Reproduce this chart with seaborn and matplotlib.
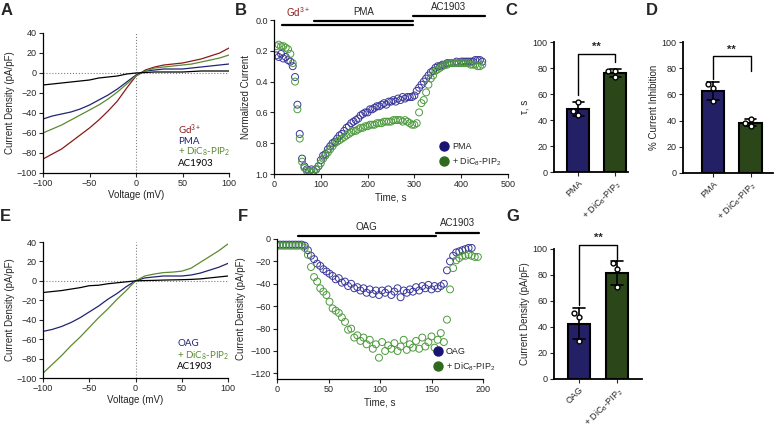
import numpy as np
import pandas as pd
import seaborn as sns
import matplotlib.pyplot as plt
from matplotlib.lines import Line2D
from matplotlib.ticker import FormatStrFormatter

# ---- colours
RED = "#8b1a1a"
NAVY = "#1f2470"
GREEN = "#5b8a30"
DOT_BLUE = "#3a3799"
DOT_GREEN = "#4e9a3e"
BAR_BLUE = "#1a1472"
BAR_GREEN = "#2a4d12"

DIC8 = "+ DiC$_8$-PIP$_2$"

# ---- A: I-V curves (PMA experiment)
voltage = [-100, -90, -80, -70, -60, -50, -40, -30, -20, -10, 0,
           10, 20, 30, 40, 50, 60, 70, 80, 90, 100]
iv_a_gd = [-86, -81, -76, -69, -62, -55, -47, -38, -28, -15, -3,
           3, 6, 8, 9, 10, 12, 14, 17, 20, 25]
iv_a_pma = [-46, -43, -41, -39, -36, -32, -27, -22, -16, -9, -2,
            2, 3, 4, 4, 4, 5, 6, 7, 8, 9]
iv_a_dic8 = [-60, -56, -52, -47, -42, -37, -32, -26, -19, -11, -3,
             2, 5, 6, 7, 8, 9, 11, 13, 15, 18]
iv_a_ac = [-12, -11, -10, -9, -8, -7, -5, -4, -3, -1, 0,
           0.5, 1, 1, 1, 1, 1.5, 2, 2, 2, 2]
legend_a = ["Gd$^{3+}$", "PMA", DIC8, "AC1903"]

# ---- B: normalized current time course
time_b = np.arange(5, 450, 5)
norm_pma = [0.23, 0.24, 0.22, 0.25, 0.24, 0.26, 0.27, 0.30, 0.37, 0.55,
            0.74, 0.90, 0.95, 0.97, 0.98, 0.97, 0.98, 0.97, 0.95, 0.91,
            0.88, 0.87, 0.84, 0.82, 0.80, 0.79, 0.77, 0.75, 0.74, 0.72,
            0.70, 0.69, 0.67, 0.66, 0.65, 0.64, 0.62, 0.61, 0.60, 0.60,
            0.58, 0.58, 0.57, 0.56, 0.56, 0.55, 0.54, 0.55, 0.53, 0.53,
            0.52, 0.53, 0.51, 0.52, 0.50, 0.51, 0.50, 0.50, 0.50, 0.49,
            0.46, 0.44, 0.42, 0.40, 0.38, 0.36, 0.34, 0.33, 0.31, 0.30,
            0.30, 0.29, 0.29, 0.28, 0.28, 0.28, 0.28, 0.27, 0.28, 0.27,
            0.27, 0.27, 0.27, 0.27, 0.27, 0.26, 0.26, 0.26, 0.27]
norm_dic8 = [0.17, 0.16, 0.17, 0.17, 0.18, 0.19, 0.22, 0.28, 0.40, 0.58,
             0.77, 0.92, 0.96, 0.98, 0.98, 0.99, 0.98, 0.97, 0.95, 0.93,
             0.90, 0.88, 0.86, 0.84, 0.82, 0.80, 0.79, 0.78, 0.77, 0.76,
             0.75, 0.74, 0.73, 0.72, 0.72, 0.71, 0.70, 0.70, 0.69, 0.69,
             0.68, 0.68, 0.68, 0.67, 0.67, 0.67, 0.66, 0.66, 0.66, 0.66,
             0.65, 0.65, 0.65, 0.65, 0.66, 0.65, 0.66, 0.67, 0.68, 0.68,
             0.67, 0.60, 0.54, 0.52, 0.47, 0.42, 0.38, 0.36, 0.33, 0.32,
             0.31, 0.30, 0.29, 0.29, 0.28, 0.28, 0.28, 0.28, 0.28, 0.28,
             0.28, 0.28, 0.28, 0.29, 0.29, 0.29, 0.30, 0.30, 0.29]
# treatment bars: name, start, end, level, text colour
treat_b = [("Gd$^{3+}$", 17, 297, 0.03, RED),
           ("PMA", 85, 297, 0.006, "black"),
           ("AC1903", 297, 451, -0.026, "black")]

# ---- C / D: tau and % inhibition
groups_pma = ["PMA", DIC8]
tau_pma = [54, 47, 44]
tau_dic8 = [78, 78, 73]
inhib_pma = [68, 65, 55]
inhib_dic8 = [41, 38, 36]

# ---- E: I-V curves (OAG experiment)
iv_e_oag = [-52, -50, -47, -43, -38, -32, -26, -19, -13, -6, 0,
            3, 4, 5, 5, 5, 6, 8, 11, 14, 18]
iv_e_dic8 = [-95, -86, -77, -67, -58, -48, -38, -29, -19, -10, 0,
             5, 7, 8.5, 9, 10, 13, 19, 25, 31, 38]
iv_e_ac = [-12, -11, -10, -8.5, -7, -5, -4.5, -3, -2, -1, 0,
           0.3, 0.5, 0.8, 1, 1.2, 1.5, 2, 3, 4, 5]
legend_e = ["OAG", DIC8, "AC1903"]

# ---- F: current density time course
time_f_oag = np.arange(0, 192, 3)
dens_oag = [-5, -5, -5, -5, -5, -5, -5, -5, -5, -6,
            -10, -15, -18, -22, -24, -27, -29, -31, -33, -36,
            -35, -39, -38, -42, -40, -44, -43, -46, -44, -48,
            -45, -49, -46, -50, -46, -48, -45, -50, -47, -44,
            -52, -46, -48, -45, -47, -43, -46, -42, -44, -41,
            -45, -42, -44, -42, -40, -28, -20, -15, -12, -11,
            -10, -9, -8, -8]
time_f_dic8 = np.arange(0, 198, 3)
dens_dic8 = [-6, -6, -6, -6, -6, -6, -6, -6, -6, -8,
             -14, -25, -34, -38, -44, -47, -50, -56, -62, -64,
             -66, -70, -74, -81, -80, -88, -86, -91, -88, -94,
             -90, -98, -94, -106, -92, -100, -95, -98, -93, -100,
             -96, -90, -99, -94, -97, -91, -98, -88, -96, -92,
             -87, -97, -90, -84, -92, -72, -45, -26, -19, -17,
             -15, -15, -14, -15, -16, -16]
treat_f = [("OAG", 20, 154, 2.7, "black"),
           ("AC1903", 154, 196, 5.4, "black")]

# ---- G: peak current density
groups_oag = ["OAG", DIC8]
peak_oag = [51, 48, 29]
peak_dic8 = [89, 85, 71]

# ---------------------------------------------------------------
sns.set_style("ticks")
plt.rcParams["font.family"] = ["Liberation Sans", "DejaVu Sans"]
plt.rcParams["mathtext.default"] = "regular"
plt.rcParams["axes.linewidth"] = 0.9
plt.rcParams["xtick.labelsize"] = 6.5
plt.rcParams["ytick.labelsize"] = 6.5
plt.rcParams["xtick.major.size"] = 3
plt.rcParams["ytick.major.size"] = 3
plt.rcParams["xtick.major.pad"] = 1.5
plt.rcParams["ytick.major.pad"] = 1.5
plt.rcParams["axes.labelsize"] = 7
plt.rcParams["axes.edgecolor"] = "black"

W, H = 774, 429
fig = plt.figure(figsize=(W / 100, H / 100), dpi=100)


def add_axes(x0, y0, x1, y1):
    return fig.add_axes([x0 / W, 1 - y1 / H, (x1 - x0) / W, (y1 - y0) / H])


def iv_panel(ax, curves, labels, colors, label_y):
    ax.axhline(0, color="gray", ls=":", lw=0.8)
    ax.axvline(0, color="gray", ls=":", lw=0.8)
    for vals, c in zip(curves, colors):
        sns.lineplot(x=voltage, y=vals, color=c, lw=0.9, ax=ax)
    ax.set_xlim(-100, 100)
    ax.set_ylim(-100, 40)
    ax.set_xticks([-100, -50, 0, 50, 100])
    ax.set_yticks(range(-100, 41, 20))
    ax.set_xlabel("Voltage (mV)", labelpad=1)
    ax.set_ylabel("Current Density (pA/pF)", labelpad=1)
    for lab, c, y in zip(labels, colors, label_y):
        ax.text(45, y, lab, color=c, fontsize=7, va="center",
                family=["Lato", "DejaVu Sans"])
    sns.despine(ax=ax)


def time_panel(ax, series, colors, labels, treatments):
    for (t, v), c in zip(series, colors):
        sns.scatterplot(x=t, y=v, ax=ax, marker="o", s=25, color=c,
                        facecolor="none", edgecolor=c, linewidth=0.7)
    for name, t0, t1, lev, tc in treatments:
        ax.plot([t0, t1], [lev, lev], color="black", lw=1.6, clip_on=False)
    handles = [Line2D([], [], marker="o", ls="", color=c, markersize=6.5)
               for c in (BAR_BLUE, "#2e6b1e")]
    sns.despine(ax=ax)
    return handles


def bar_panel(ax, groups, vals_a, vals_b, ylabel, sig, xlim):
    df = pd.DataFrame({"group": [groups[0]] * len(vals_a) + [groups[1]] * len(vals_b),
                       "value": vals_a + vals_b})
    sns.barplot(data=df, x="group", y="value", hue="group", legend=False,
                palette=[BAR_BLUE, BAR_GREEN], errorbar="sd", capsize=0.3,
                err_kws={"color": "black", "linewidth": 1.2},
                edgecolor="black", linewidth=1.5, width=0.6, ax=ax)
    sns.swarmplot(data=df, x="group", y="value", color="white",
                  edgecolor="black", linewidth=1, size=3.5, ax=ax, zorder=5)
    ax.set_ylim(0, 100)
    ax.set_yticks(range(0, 101, 20))
    ax.set_xlim(*xlim)
    ax.set_xlabel("")
    ax.set_ylabel(ylabel, labelpad=2)
    ax.set_xticks([0, 1])
    ax.set_xticklabels(groups, rotation=45, ha="right", rotation_mode="anchor")
    yl, ytop, yr = sig
    ax.plot([0, 0, 1, 1], [yl, ytop, ytop, yr], color="black", lw=1, clip_on=False)
    ax.text(0.5, ytop + 1.5, "**", ha="center", va="bottom", fontsize=8,
            fontweight="bold", clip_on=False)
    for s in ("left", "bottom"):
        ax.spines[s].set_linewidth(1.3)
    sns.despine(ax=ax)


# ---- panel A
axA = add_axes(43, 33, 229, 173)
iv_panel(axA, [iv_a_gd, iv_a_pma, iv_a_dic8, iv_a_ac], legend_a,
         [RED, NAVY, GREEN, "black"], [-57, -68, -79, -90])

# ---- panel B
axB = add_axes(274, 20, 508, 174)
hB = time_panel(axB, [(time_b, norm_pma), (time_b, norm_dic8)],
                [DOT_BLUE, DOT_GREEN], ["PMA", DIC8], treat_b)
axB.set_xlim(0, 500)
axB.set_ylim(1.0, 0.0)
axB.set_yticks([0, 0.2, 0.4, 0.6, 0.8, 1.0])
axB.yaxis.set_major_formatter(FormatStrFormatter("%.1f"))
axB.set_xlabel("Time, s", labelpad=2)
axB.set_ylabel("Normalized Current", labelpad=3)
axB.text(51, -0.006, "Gd$^{3+}$", color=RED, ha="center", va="bottom", fontsize=7)
axB.text(191, -0.02, "PMA", ha="center", va="bottom", fontsize=7)
axB.text(374, -0.054, "AC1903", ha="center", va="bottom", fontsize=7)
axB.legend(hB, ["PMA", DIC8], loc="lower right", frameon=False, fontsize=6.5,
           handletextpad=0.4, handlelength=1, borderaxespad=0.3,
           bbox_to_anchor=(1.0, 0.0))

# ---- panel C
axC = add_axes(554, 42, 628, 172)
bar_panel(axC, groups_pma, tau_pma, tau_dic8, "τ, s", (59.5, 91, 85), (-0.65, 1.35))

# ---- panel D
axD = add_axes(683, 42, 773, 173)
bar_panel(axD, groups_pma, inhib_pma, inhib_dic8, "% Current Inhibition",
          (72, 89, 78), (-0.8, 1.6))

# ---- panel E
axE = add_axes(43, 242, 228, 378)
iv_panel(axE, [iv_e_oag, iv_e_dic8, iv_e_ac], legend_e,
         [NAVY, GREEN, "black"], [-65, -77, -88])

# ---- panel F
axF = add_axes(277, 239, 483, 379)
hF = time_panel(axF, [(time_f_oag, dens_oag), (time_f_dic8, dens_dic8)],
                [DOT_BLUE, DOT_GREEN], ["OAG", DIC8], treat_f)
axF.set_xlim(0, 200)
axF.set_ylim(-125, 0)
axF.set_yticks(range(-120, 1, 20))
axF.set_xticks(range(0, 201, 50))
axF.set_xlabel("Time, s", labelpad=2)
axF.set_ylabel("Current Density (pA/pF)", labelpad=3)
axF.text(87, 6, "OAG", ha="center", va="bottom", fontsize=7)
axF.text(175, 10, "AC1903", ha="center", va="bottom", fontsize=7)
axF.legend(hF, ["OAG", DIC8], loc="lower right", frameon=False, fontsize=6.5,
           handletextpad=0.4, handlelength=1, borderaxespad=0.3,
           bbox_to_anchor=(1.09, 0.0))

# ---- panel G
axG = add_axes(554, 249, 642, 379)
bar_panel(axG, groups_oag, peak_oag, peak_dic8, "Current Density (pA/pF)",
          (57, 103, 92), (-0.66, 1.66))

# ---- panel letters
for letter, x, y in [("A", 1, 3), ("B", 235, 3), ("C", 505, 3), ("D", 646, 3),
                     ("E", 0, 209), ("F", 238, 209), ("G", 506, 209)]:
    fig.text(x / W, 1 - y / H, letter, fontsize=12, fontweight="bold", va="top")

fig.savefig("out.png", dpi=100)
